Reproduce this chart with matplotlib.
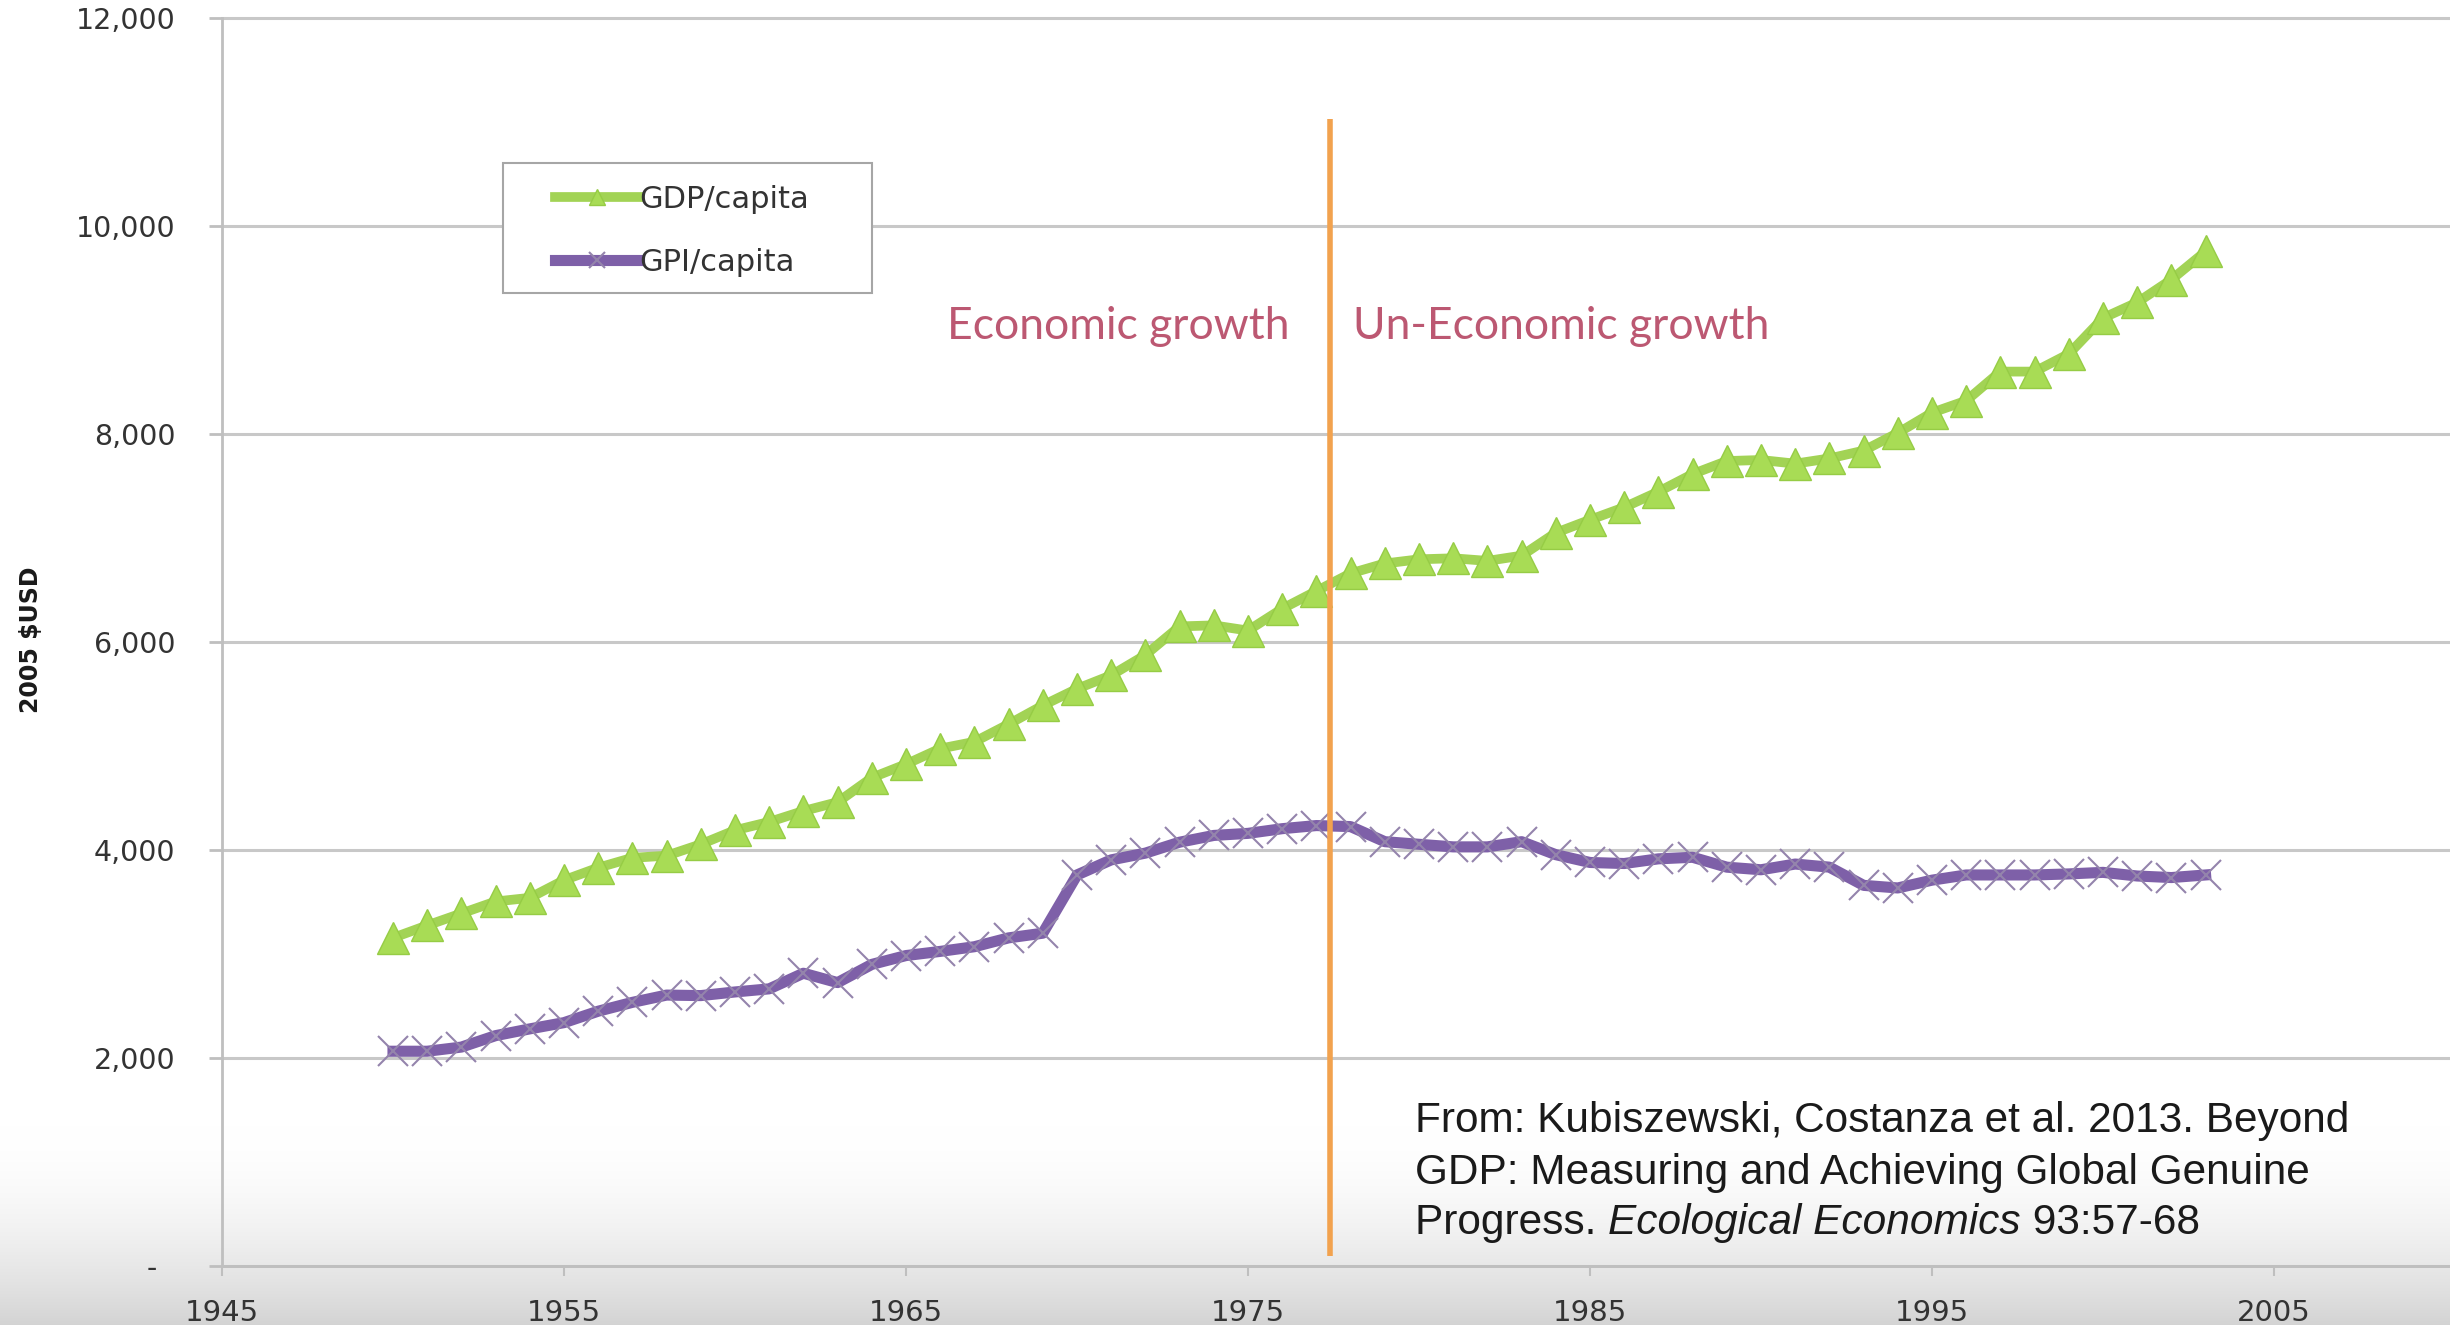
import matplotlib
matplotlib.use('Agg')
import numpy as np
import matplotlib.pyplot as plt
import matplotlib.patches as patches

# data (2005 $USD per capita)
years = list(range(1950, 2004))
gdp = [3155, 3275, 3390, 3505, 3540, 3710, 3830, 3925, 3945, 4055,
       4190, 4270, 4375, 4460, 4695, 4825, 4975, 5040, 5210, 5390,
       5550, 5680, 5875, 6150, 6160, 6110, 6320, 6490, 6660, 6755,
       6795, 6805, 6780, 6830, 7050, 7175, 7295, 7445, 7615, 7740,
       7750, 7715, 7765, 7840, 8010, 8205, 8320, 8600, 8600, 8770,
       9115, 9265, 9485, 9755]
gpi = [2065, 2065, 2105, 2215, 2280, 2340, 2450, 2535, 2605, 2600,
       2635, 2665, 2815, 2725, 2900, 2985, 3025, 3070, 3155, 3200,
       3760, 3905, 3970, 4075, 4140, 4160, 4205, 4235, 4225, 4080,
       4055, 4030, 4030, 4080, 3955, 3880, 3870, 3915, 3930, 3835,
       3810, 3865, 3835, 3660, 3635, 3710, 3760, 3760, 3760, 3770,
       3785, 3750, 3735, 3760]
xtick_years = [1945, 1955, 1965, 1975, 1985, 1995, 2005]
ytick_vals = [0, 2000, 4000, 6000, 8000, 10000, 12000]
turning_year = 1977.4

W, H = 2450, 1325
fig = plt.figure(figsize=(W / 100, H / 100), dpi=100)

# grey fade along the bottom of the frame (white on top -> grey at bottom)
bg = fig.add_axes([0, 0, 1, 0.15])
bg.set_zorder(0)
t = np.linspace(0, 1, 200) ** 1.8
shade = 1 - 0.17 * t
img = np.repeat(shade[:, None, None], 3, axis=2)
bg.imshow(img, aspect='auto', extent=(0, 1, 0, 1))
bg.axis('off')

ax = fig.add_axes([222 / W, 59 / H, (W - 222) / W, 1248 / H])
ax.set_zorder(1)
ax.set_facecolor('none')

ax.plot(years, gdp, color='#A2D355', lw=7, marker='^', ms=23,
        mfc='#A8DC55', mec='#96CC45', mew=1, label='GDP/capita', zorder=3)
ax.plot(years, gpi, color='#7E60A8', lw=8, marker='x', ms=22,
        mec='#9484AC', mew=1.5, label='GPI/capita', zorder=3)
ax.vlines(turning_year, 100, 11030, color='#F2A24E', lw=4, zorder=4)

ax.set_xlim(1945, 1945 + (W - 222) / 34.2)
ax.set_ylim(0, 12000)

for s in ['top', 'right']:
    ax.spines[s].set_visible(False)
for s in ['left', 'bottom']:
    ax.spines[s].set_color('#BFBFBF')
    ax.spines[s].set_linewidth(2)

ax.yaxis.grid(True, color='#C8C8C8', lw=2.2)
ax.set_axisbelow(True)
for gl in ax.get_ygridlines():
    gl.set_clip_on(False)

ax.set_yticks(ytick_vals)
ax.set_yticklabels(['-  '] + ['{:,}'.format(v) for v in ytick_vals[1:]])
ax.tick_params(axis='y', length=9.4, width=2, color='#BFBFBF',
               labelsize=20.5, labelcolor='#333333', pad=24)
ax.set_xticks(xtick_years)
ax.set_xticklabels([str(y) for y in xtick_years])
ax.tick_params(axis='x', length=7, width=1.5, color='#BFBFBF',
               labelsize=21, labelcolor='#333333', pad=17)

fig.text(31 / W, 1 - 640 / H, '2005 $USD', rotation=90, fontsize=17,
         fontweight='bold', ha='center', va='center', color='#1a1a1a')

# legend frame drawn by hand so the inner padding matches
frame = patches.Rectangle((503 / W, 1 - 293 / H), 369 / W, 130 / H,
                          transform=fig.transFigure, facecolor='white',
                          edgecolor='#A6A6A6', lw=1.5, zorder=4, clip_on=False)
ax.add_patch(frame)
leg = ax.legend(loc='upper left', bbox_to_anchor=(555 / W, 1 - 185 / H),
                bbox_transform=fig.transFigure, frameon=False, fontsize=22,
                borderpad=0, borderaxespad=0, handlelength=2.75,
                handletextpad=0, labelspacing=1.1, numpoints=1)
for h in leg.legend_handles:
    h.set_markersize(11)
for txt in leg.get_texts():
    txt.set_color('#333333')
leg.set_zorder(5)

ax.text(1966.2, 9030, 'Economic growth', color='#BC5872', fontsize=32,
        family='Lato', va='center', ha='left', zorder=5)
ax.text(1978.07, 9030, 'Un-Economic growth', color='#BC5872', fontsize=32,
        family='Lato', va='center', ha='left', zorder=5)

# citation
cx = 1415 / W
cite_kw = dict(family='Liberation Sans', fontsize=30.5, color='#1a1a1a',
               va='baseline', ha='left')
fig.text(cx, 1 - 1132 / H, 'From: Kubiszewski, Costanza et al. 2013. Beyond', **cite_kw)
fig.text(cx, 1 - 1184 / H, 'GDP: Measuring and Achieving Global Genuine', **cite_kw)
y3 = 1 - 1234 / H
renderer = fig.canvas.get_renderer()
x = cx
for piece, st in [('Progress. ', 'normal'), ('Ecological Economics', 'italic'),
                  (' 93:57-68', 'normal')]:
    tt = fig.text(x, y3, piece, style=st, **cite_kw)
    x += tt.get_window_extent(renderer).width / W

fig.savefig('out.png', dpi=100, facecolor='white')
